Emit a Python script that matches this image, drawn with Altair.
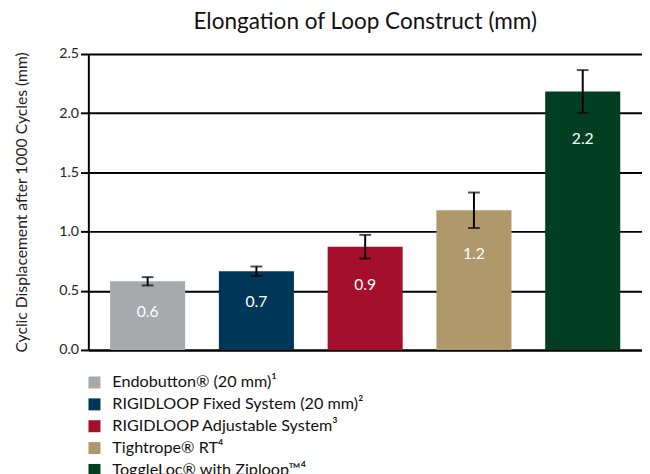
import altair as alt
import pandas as pd

products = [
    "Endobutton® (20 mm)¹",
    "RIGIDLOOP Fixed System (20 mm)²",
    "RIGIDLOOP Adjustable System³",
    "Tightrope® RT⁴",
    "ToggleLoc® with Ziploop™⁴",
]
means = [0.58, 0.665, 0.872, 1.18, 2.184]
err = [0.035, 0.04, 0.10, 0.15, 0.18]
labels = ["0.6", "0.7", "0.9", "1.2", "2.2"]
colors = ["#A7AAAD", "#003658", "#A4102C", "#AF986A", "#023F22"]

df = pd.DataFrame({
    "product": products,
    "mean": means,
    "lo": [m - e for m, e in zip(means, err)],
    "hi": [m + e for m, e in zip(means, err)],
    "label": labels,
})

FONT = "Lato"

x = alt.X("product:N", sort=products,
          scale=alt.Scale(paddingInner=0.31, paddingOuter=0.2),
          axis=alt.Axis(title=None, labels=False, ticks=False, domain=True,
                        domainColor="black", domainWidth=2))
y_axis = alt.Axis(title="Cyclic Displacement after 1000 Cycles (mm)",
                  values=[0, 0.5, 1.0, 1.5, 2.0, 2.5], format=".1f",
                  grid=True, gridColor="black", gridWidth=2, gridOpacity=1,
                  domainColor="black", domainWidth=2,
                  tickColor="black", tickWidth=2, tickSize=8,
                  labelFontSize=14.5, labelColor="#222", labelPadding=2,
                  titleFontSize=16, titleFontWeight="normal", titleColor="#222",
                  titlePadding=30)

bars = alt.Chart(df).mark_bar().encode(
    x=x,
    y=alt.Y("mean:Q", scale=alt.Scale(domain=[0, 2.5], nice=False), axis=y_axis),
    color=alt.Color("product:N", sort=products,
                    scale=alt.Scale(domain=products, range=colors),
                    legend=alt.Legend(title=None, orient="none", legendX=-2, legendY=327,
                                      direction="vertical", symbolType="square",
                                      symbolSize=150, symbolStrokeWidth=0,
                                      labelFontSize=16.5, labelFont=FONT,
                                      labelColor="#111", rowPadding=5.3,
                                      labelLimit=400, labelOffset=10)),
)

rules = alt.Chart(df).mark_rule(color="black", strokeWidth=2).encode(
    x=alt.X("product:N", sort=products), y="lo:Q", y2="hi:Q")
cap_lo = alt.Chart(df).mark_tick(color="black", thickness=2, size=12).encode(
    x=alt.X("product:N", sort=products), y="lo:Q")
cap_hi = alt.Chart(df).mark_tick(color="black", thickness=2, size=12).encode(
    x=alt.X("product:N", sort=products), y="hi:Q")
text = alt.Chart(df).mark_text(color="white", fontSize=16, font=FONT,
                               baseline="middle", dy=27).encode(
    x=alt.X("product:N", sort=products), y="lo:Q", text="label:N")

chart = alt.layer(bars, rules, cap_lo, cap_hi, text).properties(
    width=565, height=302,
    title=alt.TitleParams("Elongation of Loop Construct (mm)", fontSize=23,
                          font=FONT, fontWeight="normal", color="#111", offset=13),
    autosize=alt.AutoSizeParams(type="none"),
    padding={"left": 82, "top": 42, "right": 0, "bottom": 140},
).configure_view(stroke=None).configure_axis(labelFont=FONT, titleFont=FONT)

chart.save("out.html", embed_options={"renderer": "svg", "actions": False})
